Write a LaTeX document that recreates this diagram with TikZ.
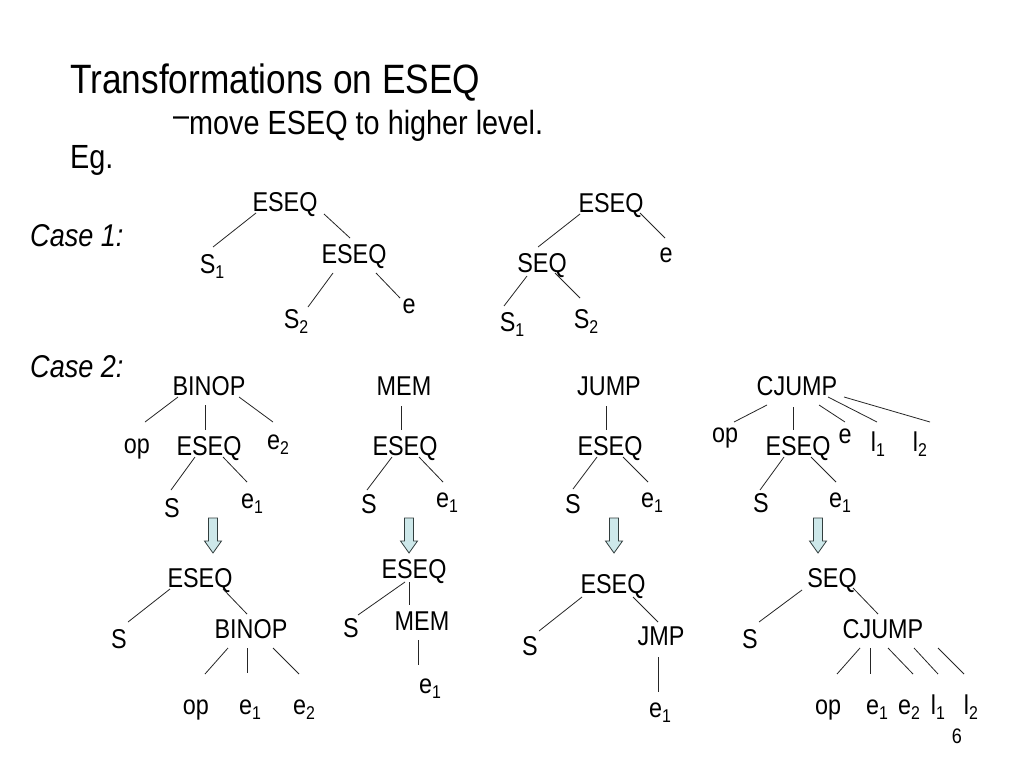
\documentclass[tikz,border=0pt]{standalone}
\usepackage{fontspec}
\setmainfont{Liberation Sans}[FakeStretch=0.86]
\newcommand\sbs[1]{\raisebox{-5pt}{\fontsize{18.5}{18.5}\selectfont #1}}
\newcommand\edge[4]{\draw[ln] ([shift={#2}]#1.base) -- ([shift={#4}]#3.base);}
\definecolor{arrfill}{RGB}{205,232,234}
\definecolor{arrline}{RGB}{50,62,62}
\begin{document}
\begin{tikzpicture}[x=1pt,y=-1pt,
  tx/.style={anchor=base,inner sep=0pt,font=\fontsize{27.2}{27.2}\selectfont},
  hd/.style={anchor=base west,inner sep=0pt},
  ln/.style={line width=0.8pt,draw=black!85},
  blk/.style={fill=arrfill,draw=arrline,line width=0.8pt}]
\useasboundingbox[fill=white] (0,0) rectangle (1024,768);

% headings
\node[hd,font=\fontsize{41}{41}\selectfont] (title) at (70,93) {Transformations on ESEQ};
\node[hd,font=\fontsize{33.5}{33.5}\selectfont] (sub) at (173,134) {\raisebox{0.22em}{–}move ESEQ to higher level.};
\node[hd,font=\fontsize{33.5}{33.5}\selectfont] (eg) at (70,168) {Eg.};
\node[hd,font=\fontsize{31.5}{31.5}\selectfont\itshape] (case1) at (30,246) {Case 1:};
\node[hd,font=\fontsize{31.5}{31.5}\selectfont\itshape] (case2) at (30,377) {Case 2:};

% Case 1, tree A
\node[tx] (a1) at (285,211) {ESEQ};
\node[tx] (a2) at (212,273) {S\sbs{1}};
\node[tx] (a3) at (354,263) {ESEQ};
\node[tx] (a4) at (296,328) {S\sbs{2}};
\node[tx] (a5) at (409,313) {e};
\edge{a1}{(-29,2)}{a2}{(1,-26)}
\edge{a1}{(39,3)}{a3}{(-4,-25)}
\edge{a3}{(-21,10)}{a4}{(12,-21)}
\edge{a3}{(22,10)}{a5}{(-9,-15)}

% Case 1, tree B
\node[tx] (b1) at (611,212) {ESEQ};
\node[tx] (b2) at (542,272) {SEQ};
\node[tx] (b3) at (666,262) {e};
\node[tx] (b4) at (512,331) {S\sbs{1}};
\node[tx] (b5) at (586,328) {S\sbs{2}};
\edge{b1}{(-31,2)}{b2}{(-4,-25)}
\edge{b1}{(29,1)}{b3}{(-1,-24)}
\edge{b2}{(-15,4)}{b4}{(-8,-25)}
\edge{b2}{(13,1)}{b5}{(-6,-30)}

% Case 2, BINOP
\node[tx] (c1) at (209,395) {BINOP};
\node[tx] (c2) at (137,453) {op};
\node[tx] (c3) at (209,455) {ESEQ};
\node[tx] (c4) at (278,449) {e\sbs{2}};
\node[tx] (c5) at (172,517) {S};
\node[tx] (c6) at (252,508) {e\sbs{1}};
\edge{c1}{(-31,2)}{c2}{(8,-31)}
\edge{c1}{(-4,10)}{c3}{(-4,-25)}
\edge{c1}{(30,2)}{c4}{(-5,-27)}
\edge{c3}{(-14,2)}{c5}{(-1,-27)}
\edge{c3}{(14,2)}{c6}{(-5,-26)}

\node[tx] (d1) at (200,587) {ESEQ};
\node[tx] (d2) at (119,648) {S};
\node[tx] (d3) at (251,638) {BINOP};
\node[tx] (d4) at (196,714) {op};
\node[tx] (d5) at (250,714) {e\sbs{1}};
\node[tx] (d6) at (304,714) {e\sbs{2}};
\edge{d1}{(-30,2)}{d2}{(9,-26)}
\edge{d1}{(23,2)}{d3}{(-4,-24)}
\edge{d3}{(-23,10)}{d4}{(9,-40)}
\edge{d3}{(-4,10)}{d5}{(-3,-41)}
\edge{d3}{(22,10)}{d6}{(-5,-40)}

% Case 2, MEM
\node[tx] (m1) at (404,395) {MEM};
\node[tx] (m2) at (405,455) {ESEQ};
\node[tx] (m3) at (369,513) {S};
\node[tx] (m4) at (447,507) {e\sbs{1}};
\edge{m1}{(-3,11)}{m2}{(-4,-25)}
\edge{m2}{(-13,2)}{m3}{(-2,-23)}
\edge{m2}{(14,2)}{m4}{(-4,-25)}

\node[tx] (n1) at (414,578) {ESEQ};
\node[tx] (n2) at (351,637) {S};
\node[tx] (n3) at (422,630) {MEM};
\node[tx] (n4) at (430,693) {e\sbs{1}};
\edge{n1}{(-9,4)}{n2}{(7,-22)}
\edge{n1}{(-5,4)}{n3}{(-13,-25)}
\edge{n3}{(-4,10)}{n4}{(-12,-28)}

% Case 2, JUMP
\node[tx] (j1) at (609,395) {JUMP};
\node[tx] (j2) at (610,455) {ESEQ};
\node[tx] (j3) at (573,513) {S};
\node[tx] (j4) at (652,507) {e\sbs{1}};
\edge{j1}{(-3,11)}{j2}{(-4,-25)}
\edge{j2}{(-13,2)}{j3}{(0,-24)}
\edge{j2}{(13,2)}{j4}{(-4,-25)}

\node[tx] (k1) at (613,593) {ESEQ};
\node[tx] (k2) at (530,655) {S};
\node[tx] (k3) at (661,645) {JMP};
\node[tx] (k4) at (660,717) {e\sbs{1}};
\edge{k1}{(-31,4)}{k2}{(9,-24)}
\edge{k1}{(20,4)}{k3}{(-3,-23)}
\edge{k3}{(-3,12)}{k4}{(-2,-25)}

% Case 2, CJUMP
\node[tx] (p1) at (797,395) {CJUMP};
\node[tx] (p2) at (725,442) {op};
\node[tx] (p3) at (798,455) {ESEQ};
\node[tx] (p4) at (845,443) {e};
\node[tx] (p5) at (878,451) {l\sbs{1}};
\node[tx] (p6) at (920,451) {l\sbs{2}};
\node[tx] (p7) at (761,512) {S};
\node[tx] (p8) at (840,507) {e\sbs{1}};
\edge{p1}{(-30,10)}{p2}{(9,-20)}
\edge{p1}{(-4,12)}{p3}{(-5,-25)}
\edge{p1}{(22,10)}{p4}{(0,-21)}
\edge{p1}{(31,2)}{p5}{(-1,-29)}
\edge{p1}{(47,2)}{p6}{(10,-29)}
\edge{p3}{(-14,2)}{p7}{(-1,-22)}
\edge{p3}{(13,2)}{p8}{(-4,-25)}

\node[tx] (q1) at (832,587) {SEQ};
\node[tx] (q2) at (750,648) {S};
\node[tx] (q3) at (883,638) {CJUMP};
\node[tx] (q4) at (828,714) {op};
\node[tx] (q5) at (877,714) {e\sbs{1}};
\node[tx] (q6) at (909,714) {e\sbs{2}};
\node[tx] (q7) at (938,714) {l\sbs{1}};
\node[tx] (q8) at (971,714) {l\sbs{2}};
\edge{q1}{(-30,3)}{q2}{(9,-26)}
\edge{q1}{(21,1)}{q3}{(-5,-24)}
\edge{q3}{(-23,10)}{q4}{(9,-40)}
\edge{q3}{(-13,10)}{q5}{(-7,-40)}
\edge{q3}{(5,10)}{q6}{(4,-40)}
\edge{q3}{(31,10)}{q7}{(0,-40)}
\edge{q3}{(55,10)}{q8}{(-7,-40)}

% block arrows
\foreach \x in {213,409,614,818}{
  \draw[blk] (\x-4.5,518) -- (\x+4.5,518) -- (\x+4.5,541) -- (\x+8.5,541)
    -- (\x,553) -- (\x-8.5,541) -- (\x-4.5,541) -- cycle;
}

% page number
\node[tx,font=\fontsize{21}{21}\selectfont] (pg) at (957,743) {6};
\end{tikzpicture}
\end{document}
